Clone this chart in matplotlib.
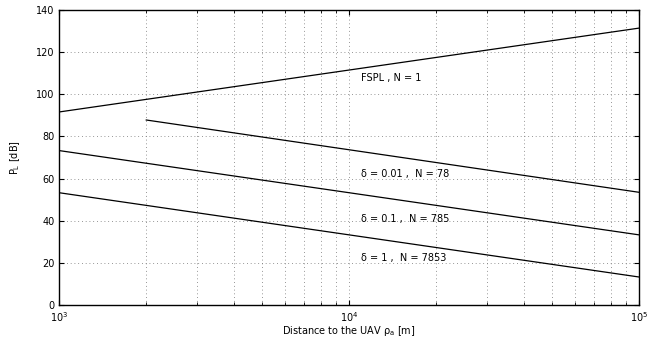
#!/usr/bin/env python3
"""Path loss vs. distance to the UAV (log-x), FSPL and three delta curves."""

import matplotlib
matplotlib.use("Agg")
import matplotlib.pyplot as plt
from matplotlib.ticker import LogLocator, NullFormatter

plt.rcParams["font.family"] = ["DejaVu Sans"]
plt.rcParams["mathtext.fontset"] = "dejavusans"

# values
fspl_x = [1e3, 1e5]
fspl_y = [91.6, 131.4]
d001_x = [2e3, 1e5]
d001_y = [87.8, 53.5]
d01_x = [1e3, 1e5]
d01_y = [73.3, 33.3]
d1_x = [1e3, 1e5]
d1_y = [53.3, 13.3]

label_x = 1.1e4
labels = ["FSPL , N = 1", "δ = 0.01 ,  N = 78", "δ = 0.1 ,  N = 785", "δ = 1 ,  N = 7853"]
label_y = [107.6, 62.2, 40.7, 22.2]

yticks = [0, 20, 40, 60, 80, 100, 120, 140]


def main():
    fig = plt.figure(figsize=(6.59, 3.38), dpi=100)
    ax = fig.add_axes([0.0895, 0.0976, 0.880, 0.8728])

    for xs, ys in [(fspl_x, fspl_y), (d001_x, d001_y), (d01_x, d01_y), (d1_x, d1_y)]:
        ax.plot(xs, ys, "k-", lw=0.9)

    for t, y in zip(labels, label_y):
        ax.text(label_x, y, t, fontsize=7, ha="left", va="center")

    ax.set_xscale("log")
    ax.set_xlim(1e3, 1e5)
    ax.set_ylim(0, 140)
    ax.set_yticks(yticks)
    ax.xaxis.set_minor_locator(LogLocator(base=10, subs=range(2, 10)))
    ax.xaxis.set_minor_formatter(NullFormatter())

    ax.grid(True, which="major", ls=(0, (1, 3.5)), color="0.45", lw=0.6)
    ax.grid(True, which="minor", axis="x", ls=(0, (1, 3.5)), color="0.45", lw=0.6)

    ax.tick_params(which="both", direction="in", top=True, right=True, labelsize=7)
    ax.tick_params(axis="x", which="major", pad=4)
    ax.tick_params(axis="y", pad=3)
    ax.tick_params(which="major", length=3.5, width=0.8)
    ax.tick_params(which="minor", length=2, width=0.6)
    for s in ax.spines.values():
        s.set_linewidth(1.0)

    ax.set_xlabel(r"Distance to the UAV ρ$_\mathrm{a}$ [m]", fontsize=7, labelpad=0)
    ax.set_ylabel(r"P$_\mathrm{L}$ [dB]", fontsize=7, labelpad=10)

    fig.savefig("out.png", dpi=100)


if __name__ == "__main__":
    main()
